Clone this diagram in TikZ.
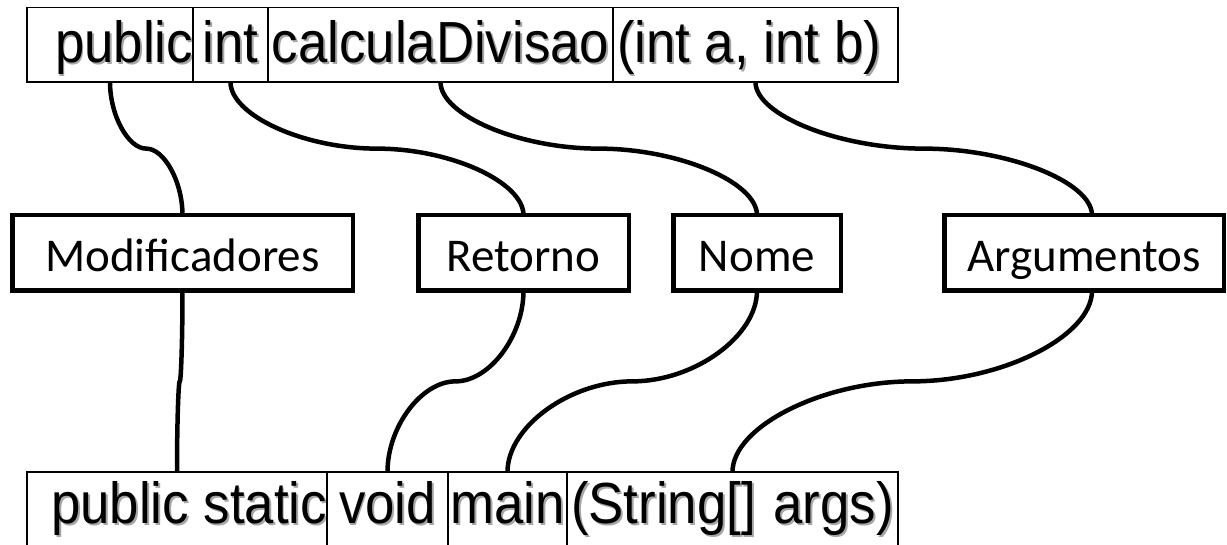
\documentclass[tikz,border=0pt]{standalone}
\usepackage{fontspec}
\usepackage{graphicx}
\setmainfont{Liberation Sans}
\newfontfamily\calibri{Carlito}
\usetikzlibrary{positioning,calc}

\newcommand{\shadowed}[1]{\scalebox{0.91}[1]{\makebox[0pt][l]{\hspace{2pt}\raisebox{-2pt}{\color{black!35}#1}}#1}}

\tikzset{
	code/.style={draw, line width=1.2pt, outer sep=0pt, inner sep=0pt, text width=#1,
		font=\fontsize{58}{64}\selectfont},
	toprow/.style={code=#1, text height=55.5pt, text depth=19pt},
	botrow/.style={code=#1, text height=51pt, text depth=40pt},
	part/.style={draw, line width=4.5pt, outer sep=0pt, inner sep=0pt, minimum width=#1,
		minimum height=75.5pt, text height=38pt, text depth=0pt,
		font=\calibri\fontsize{47}{50}\selectfont},
	conn/.style={line width=4.5pt, to path={let \p1=(\tikztostart), \p2=(\tikztotarget) in
		.. controls (\x1,{0.75*\y1+0.25*\y2}) and ({0.75*\x1+0.25*\x2},{0.5*\y1+0.5*\y2})
		.. ({0.5*\x1+0.5*\x2},{0.5*\y1+0.5*\y2})
		.. controls ({0.25*\x1+0.75*\x2},{0.5*\y1+0.5*\y2}) and (\x2,{0.25*\y1+0.75*\y2})
		.. (\tikztotarget)}}
}

\begin{document}
\begin{tikzpicture}[x=1pt, y=-1pt]
\clip (0,0) rectangle (1227,545);

% first signature
\node[toprow=166pt, align=flush right, anchor=north west] (tpub) at (27,7.5) {\shadowed{public}};
\node[toprow=75pt, align=center, right=0pt of tpub] (tint) {\shadowed{int}};
\node[toprow=345pt, align=center, right=0pt of tint] (tname) {\shadowed{calculaDivisao}};
\node[toprow=285pt, align=flush left, right=0pt of tname] (targs) {\hspace*{4pt}\shadowed{(int a, int b)}};

% parts
\node[part=340.5pt] (modif) at (182.5,253) {Modificadores};
\node[part=210.5pt] (retorno) at (523.5,253) {Retorno};
\node[part=167.5pt] (nome) at (757,253) {Nome};
\node[part=279.5pt] (argum) at (1084,253) {Argumentos};
\coordinate (argtop) at ([xshift=8pt]argum.north);
\coordinate (argbot) at ([xshift=8pt]argum.south);

% second signature
\node[botrow=300pt, align=flush right, anchor=north west] (bpub) at (27,472) {\shadowed{public static}};
\node[botrow=121pt, align=center, right=0pt of bpub] (bvoid) {\shadowed{void}};
\node[botrow=119pt, align=center, right=0pt of bvoid] (bmain) {\shadowed{main}};
\node[botrow=331pt, align=center, right=0pt of bmain] (bargs) {\shadowed{(String[] args)}};

\foreach \a/\b in {tpub.south/modif.north, tint.south/retorno.north, tname.south/nome.north,
	targs.south/argtop, modif.south/bpub.north, retorno.south/bvoid.north,
	nome.south/bmain.north, argbot/bargs.north}{
	\draw[conn] (\a) to (\b);
}
\end{tikzpicture}
\end{document}
